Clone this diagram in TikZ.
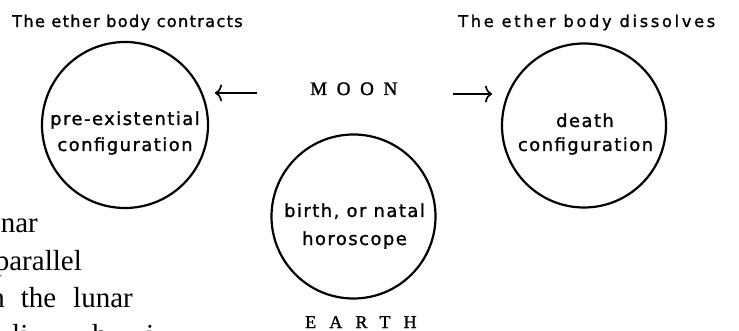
\documentclass[tikz,border=0pt]{standalone}
\usepackage{fontspec}
\setmainfont{Liberation Serif}
\newfontfamily\circfont{DejaVu Sans}[LetterSpace=8,FakeBold=1.2]
\newfontfamily\headLfont{DejaVu Sans}[LetterSpace=8,FakeBold=1.2]
\newfontfamily\headRfont{DejaVu Sans}[LetterSpace=16.7,FakeBold=1.2]
\newfontfamily\moonfont{Liberation Serif}[LetterSpace=51,FakeBold=1.5]
\newfontfamily\earthfont{Liberation Serif}[LetterSpace=73,FakeBold=1.2]
\usetikzlibrary{arrows.meta}
\begin{document}
\begin{tikzpicture}[x=1pt,y=-1pt,
  ring/.style={circle,draw,line width=2.2pt,minimum size=#1,inner sep=0pt},
  ctext/.style={font=\circfont\fontsize{18}{20}\selectfont,inner sep=0pt,anchor=base},
  bodytext/.style={font=\fontsize{29}{34}\selectfont,inner sep=0pt},
  arr/.style={line width=1.7pt,-{To[length=7pt,width=17pt]}}
]
\path[use as bounding box,clip] (0,0) rectangle (739,331);
\fill[white] (0,0) rectangle (739,331);

% headers
\node[font=\headLfont\fontsize{16.2}{18}\selectfont,inner sep=0pt,anchor=base west] (hl) at (12,27) {The ether body contracts};
\node[font=\headRfont\fontsize{16.2}{18}\selectfont,inner sep=0pt,anchor=base west] (hr) at (458,27) {The ether body dissolves};

% circles
\node[ring=166pt] (pre) at (125,125) {};
\node[ring=164pt] (birth) at (353.5,216.5) {};
\node[ring=164pt] (death) at (584,125.5) {};

% circle texts
\node[ctext] (pre1) at (125,125) {pre-existential};
\node[ctext] (pre2) at (125,151) {configuration};
\node[ctext] (birth1) at (354.5,217) {birth, or natal};
\node[ctext] (birth2) at (354.5,245) {horoscope};
\node[ctext] (death1) at (585,127) {death};
\node[ctext] (death2) at (585.5,151) {configuration};

% moon / earth
\node[font=\moonfont\fontsize{19}{21}\selectfont,inner sep=0pt,anchor=base west] (moon) at (310,95) {MOON};
\node[font=\earthfont\fontsize{18}{20}\selectfont,inner sep=0pt,anchor=base west] (earth) at (305,328) {EARTH};

% arrows
\coordinate (la0) at (257,93);
\coordinate (la1) at (215,93);
\coordinate (ra0) at (453,94);
\coordinate (ra1) at (492,94);
\draw[arr] (la0) -- (la1);
\draw[arr] (ra0) -- (ra1);

% fragments of page text
\node[bodytext,anchor=base east] (b1) at (38,233) {nar};
\node[bodytext,anchor=base east] (b2) at (82,270) {parallel};
\node[bodytext,anchor=base east] (b3) at (133,307) {n\hspace{16pt}the\hspace{17pt}lunar};
\node[bodytext,anchor=base west] (b4) at (12,344) {li};
\node[bodytext,anchor=base west] (b5) at (92,344) {h};
\node[bodytext,anchor=base west] (b6) at (146,344) {i};
\end{tikzpicture}
\end{document}
